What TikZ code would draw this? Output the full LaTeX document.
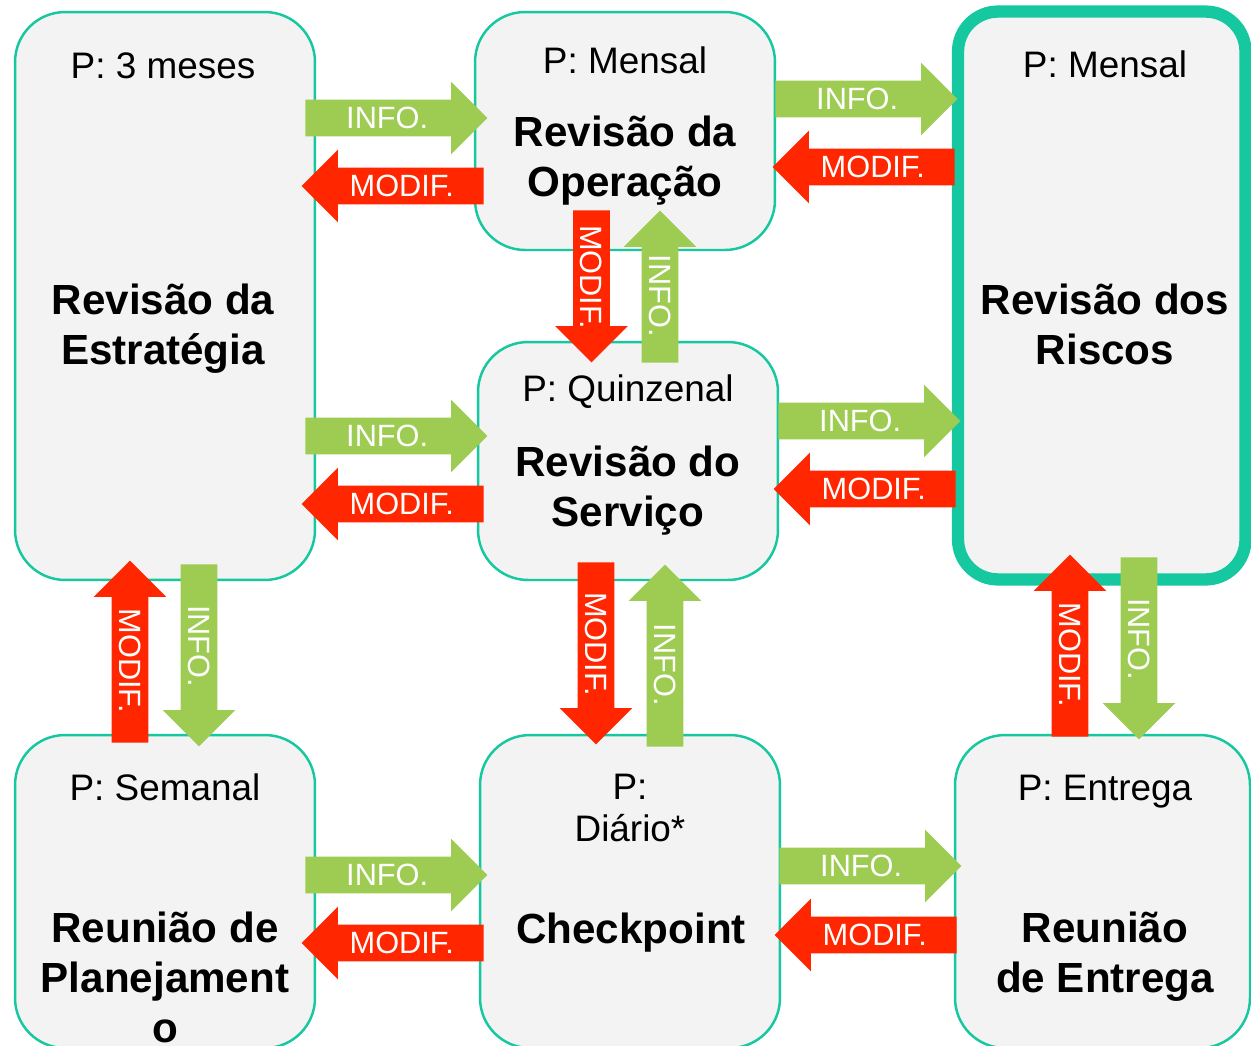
\documentclass[tikz,border=0pt]{standalone}
\usepackage{fontspec}
\setmainfont{Liberation Sans}
\usetikzlibrary{shapes.arrows}
\definecolor{boxfill}{RGB}{243,243,243}
\definecolor{boxline}{RGB}{22,200,160}
\definecolor{infogreen}{RGB}{158,204,82}
\definecolor{modifred}{RGB}{255,38,0}

\begin{document}
\begin{tikzpicture}[x=0.02cm, y=-0.02cm, box/.style={rectangle, rounded corners=1cm, draw=boxline, line width=1.4pt, fill=boxfill, minimum width=6cm, inner sep=0pt, outer sep=0pt}, per/.style={font=\fontsize{21}{24}\selectfont, align=center}, ttl/.style={font=\fontsize{24}{28.4}\selectfont\bfseries, align=center}, blk/.style={single arrow, single arrow head extend=0.36cm, minimum width=1.44cm, minimum height=#1, inner xsep=0pt, inner ysep=0pt, text height=16.45pt, text depth=3.95pt, font=\fontsize{17.5}{20}\selectfont, text=white, anchor=tail}, blk/.default=3.64cm, info/.style={blk=#1, fill=infogreen}, info/.default=3.64cm, modif/.style={blk=#1, fill=modifred}, modif/.default=3.64cm]

\useasboundingbox (0,0) rectangle (1251,1045);

\node [box, minimum height=11.36cm] (EST) at (165,296) {};
\node [box, minimum height=4.76cm] (OPE) at (625,131) {};
\node [box, minimum width=5.75cm, minimum height=11.36cm, line width=7pt, rounded corners=0.8cm] (RIS) at (1101.75,295.5) {};
\node [box, minimum height=4.76cm] (SRV) at (628,461) {};
\node [box, minimum height=6.26cm] (SEM) at (165,891.5) {};
\node [box, minimum height=6.26cm] (CHK) at (630,891.5) {};
\node [box, minimum width=5.9cm, minimum height=6.26cm] (ENT) at (1102.5,891.5) {};

\node [per, anchor=base] (EST-P) at (163,78) {P: 3 meses};
\node [ttl] (EST-T) at (163,329) {Revisão da\\Estratégia};
\node [per, anchor=base] (OPE-P) at (625,73) {P: Mensal};
\node [ttl] (OPE-T) at (625,161) {Revisão da\\Operação};
\node [per, anchor=base] (RIS-P) at (1105,77) {P: Mensal};
\node [ttl] (RIS-T) at (1105,324.5) {Revisão dos\\Riscos};
\node [per, anchor=base] (SRV-P) at (628,401) {P: Quinzenal};
\node [ttl] (SRV-T) at (628,491) {Revisão do\\Serviço};
\node [per, anchor=base] (SEM-P) at (165,800) {P: Semanal};
\node [ttl] (SEM-T) at (165,977.5) {Reunião de\\Planejament\\o};
\node [per] (CHK-P) at (630,808) {P:\\Diário*};
\node [ttl, anchor=base] (CHK-T) at (631,943) {Checkpoint};
\node [per, anchor=base] (ENT-P) at (1105,800) {P: Entrega};
\node [ttl] (ENT-T) at (1105,957) {Reunião\\de Entrega};

\node [info] (I-EO) at (305,118) {INFO.};
\node [modif, shape border rotate=180] (M-OE) at (484,186) {MODIF.};
\node [info] (I-OR) at (775,99) {INFO.};
\node [modif, shape border rotate=180] (M-RO) at (955,167) {MODIF.};
\node [info] (I-ES) at (305,436) {INFO.};
\node [modif, shape border rotate=180] (M-SE) at (484,504) {MODIF.};
\node [info] (I-SR) at (778,421) {INFO.};
\node [modif, shape border rotate=180] (M-RS) at (956,489) {MODIF.};
\node [info] (I-SC) at (305,875) {INFO.};
\node [modif, shape border rotate=180] (M-CS) at (484,943) {MODIF.};
\node [info] (I-CE) at (779,866) {INFO.};
\node [modif, shape border rotate=180] (M-EC) at (957,935) {MODIF.};

\node [modif=3.04cm, rotate=-90] (M-OS) at (591.5,210) {MODIF.};
\node [info=3.04cm, rotate=-90, shape border rotate=180] (I-SO) at (660,363) {INFO.};
\node [modif, rotate=-90] (M-SC) at (596,562) {MODIF.};
\node [info, rotate=-90, shape border rotate=180] (I-CS) at (665,747) {INFO.};
\node [modif, rotate=-90, shape border rotate=180] (M-ES) at (130,743) {MODIF.};
\node [info, rotate=-90] (I-SE) at (199,564) {INFO.};
\node [modif, rotate=-90, shape border rotate=180] (M-ER) at (1070,737) {MODIF.};
\node [info, rotate=-90] (I-RE) at (1139,557) {INFO.};

\end{tikzpicture}
\end{document}
